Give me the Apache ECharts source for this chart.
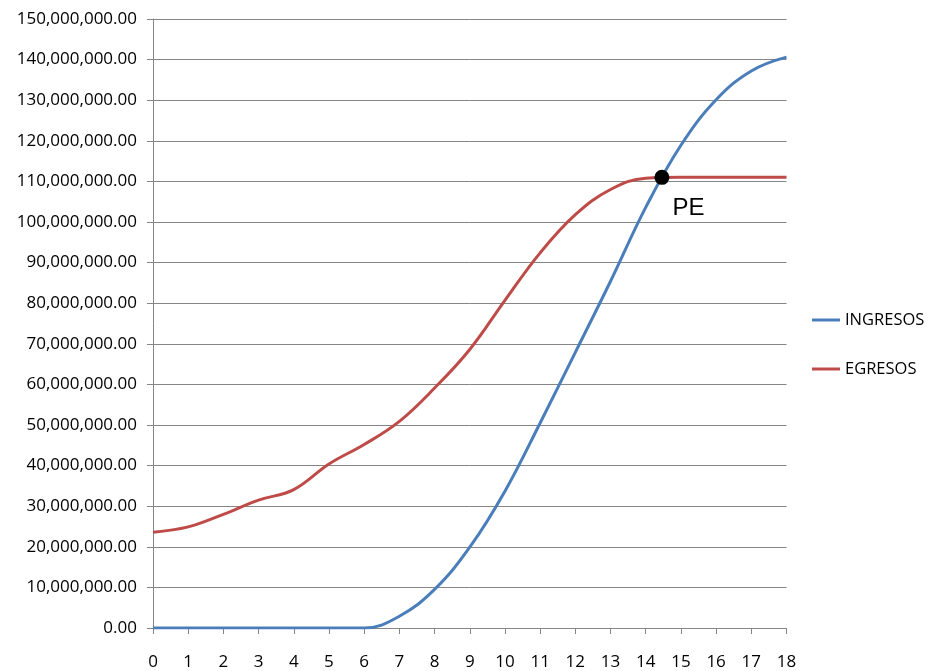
<!DOCTYPE html>
<html>
<head>
<meta charset="utf-8">
<title>Punto de equilibrio</title>
<script src="https://cdn.jsdelivr.net/npm/echarts@6/dist/echarts.min.js"></script>
<style>
  html, body { margin: 0; padding: 0; background: #ffffff; }
  #chart { width: 927px; height: 671px; }
</style>
</head>
<body>
<div id="chart"></div>
<script>
// Periods on the horizontal axis
const periods = [0, 1, 2, 3, 4, 5, 6, 7, 8, 9, 10, 11, 12, 13, 14, 15, 16, 17, 18];

// Cumulative income and expenses per period
const ingresos = [0, 0, 0, 0, 0, 0, 0, 2900000, 9500000, 19900000, 33700000, 50500000,
  67900000, 85400000, 103600000, 118900000, 130100000, 137200000, 140600000];
const egresos = [23600000, 24900000, 28000000, 31500000, 34100000, 40400000, 45200000,
  50900000, 59100000, 68600000, 80700000, 92400000, 101800000, 108000000, 110800000,
  111000000, 111000000, 111000000, 111000000];

// Break-even point (PE)
const peX = 14.46;
const peY = 111000000;

const seriesNames = ['INGRESOS', 'EGRESOS'];

function money(v) {
  const s = Math.round(v).toString().replace(/\B(?=(\d{3})+(?!\d))/g, ',');
  return s + '.00';
}

const pairs = (ys) => periods.map((x, i) => [x, ys[i]]);

const gray = '#868686';
const labelFont = '"Open Sans", sans-serif';

const chart = echarts.init(document.getElementById('chart'), null, { renderer: 'canvas' });
chart.setOption({
  animation: false,
  backgroundColor: '#ffffff',
  grid: { left: 153, right: 140.5, top: 19, bottom: 42.5 },
  legend: {
    data: seriesNames,
    orient: 'vertical',
    left: 807,
    top: 305,
    icon: 'rect',
    itemWidth: 28,
    itemHeight: 3,
    itemGap: 29,
    textStyle: { fontFamily: labelFont, fontSize: 16.5, color: '#000', lineHeight: 20 }
  },
  xAxis: {
    type: 'value',
    min: 0,
    max: 18,
    interval: 1,
    splitLine: { show: false },
    axisLine: { show: true, onZero: false, lineStyle: { color: gray, width: 1 } },
    axisTick: { show: true, length: 6, lineStyle: { color: gray } },
    axisLabel: { margin: 26, fontFamily: labelFont, fontSize: 17, color: '#000' }
  },
  yAxis: {
    type: 'value',
    min: 0,
    max: 150000000,
    interval: 10000000,
    splitLine: { show: true, lineStyle: { color: gray, width: 1 } },
    axisLine: { show: true, lineStyle: { color: gray, width: 1 } },
    axisTick: { show: true, length: 6, lineStyle: { color: gray } },
    axisLabel: { margin: 16, fontFamily: labelFont, fontSize: 17, color: '#000', formatter: money }
  },
  series: [
    {
      name: seriesNames[0],
      type: 'line',
      data: pairs(ingresos),
      smooth: 0.4,
      symbol: 'none',
      lineStyle: { color: '#4A7EBB', width: 3 },
      itemStyle: { color: '#4A7EBB' },
      z: 3
    },
    {
      name: seriesNames[1],
      type: 'line',
      data: pairs(egresos),
      smooth: 0.4,
      symbol: 'none',
      lineStyle: { color: '#BE4B48', width: 3 },
      itemStyle: { color: '#BE4B48' },
      z: 2
    },
    {
      name: 'PE',
      type: 'scatter',
      data: [[peX, peY]],
      symbol: 'circle',
      symbolSize: 15,
      itemStyle: { color: '#000000', opacity: 1 },
      z: 5,
      label: {
        show: true,
        formatter: 'PE',
        position: [18, 39],
        align: 'left',
        verticalAlign: 'middle',
        fontFamily: '"Liberation Sans", Arial, sans-serif',
        fontSize: 24,
        color: '#000'
      }
    }
  ]
});
</script>
</body>
</html>
